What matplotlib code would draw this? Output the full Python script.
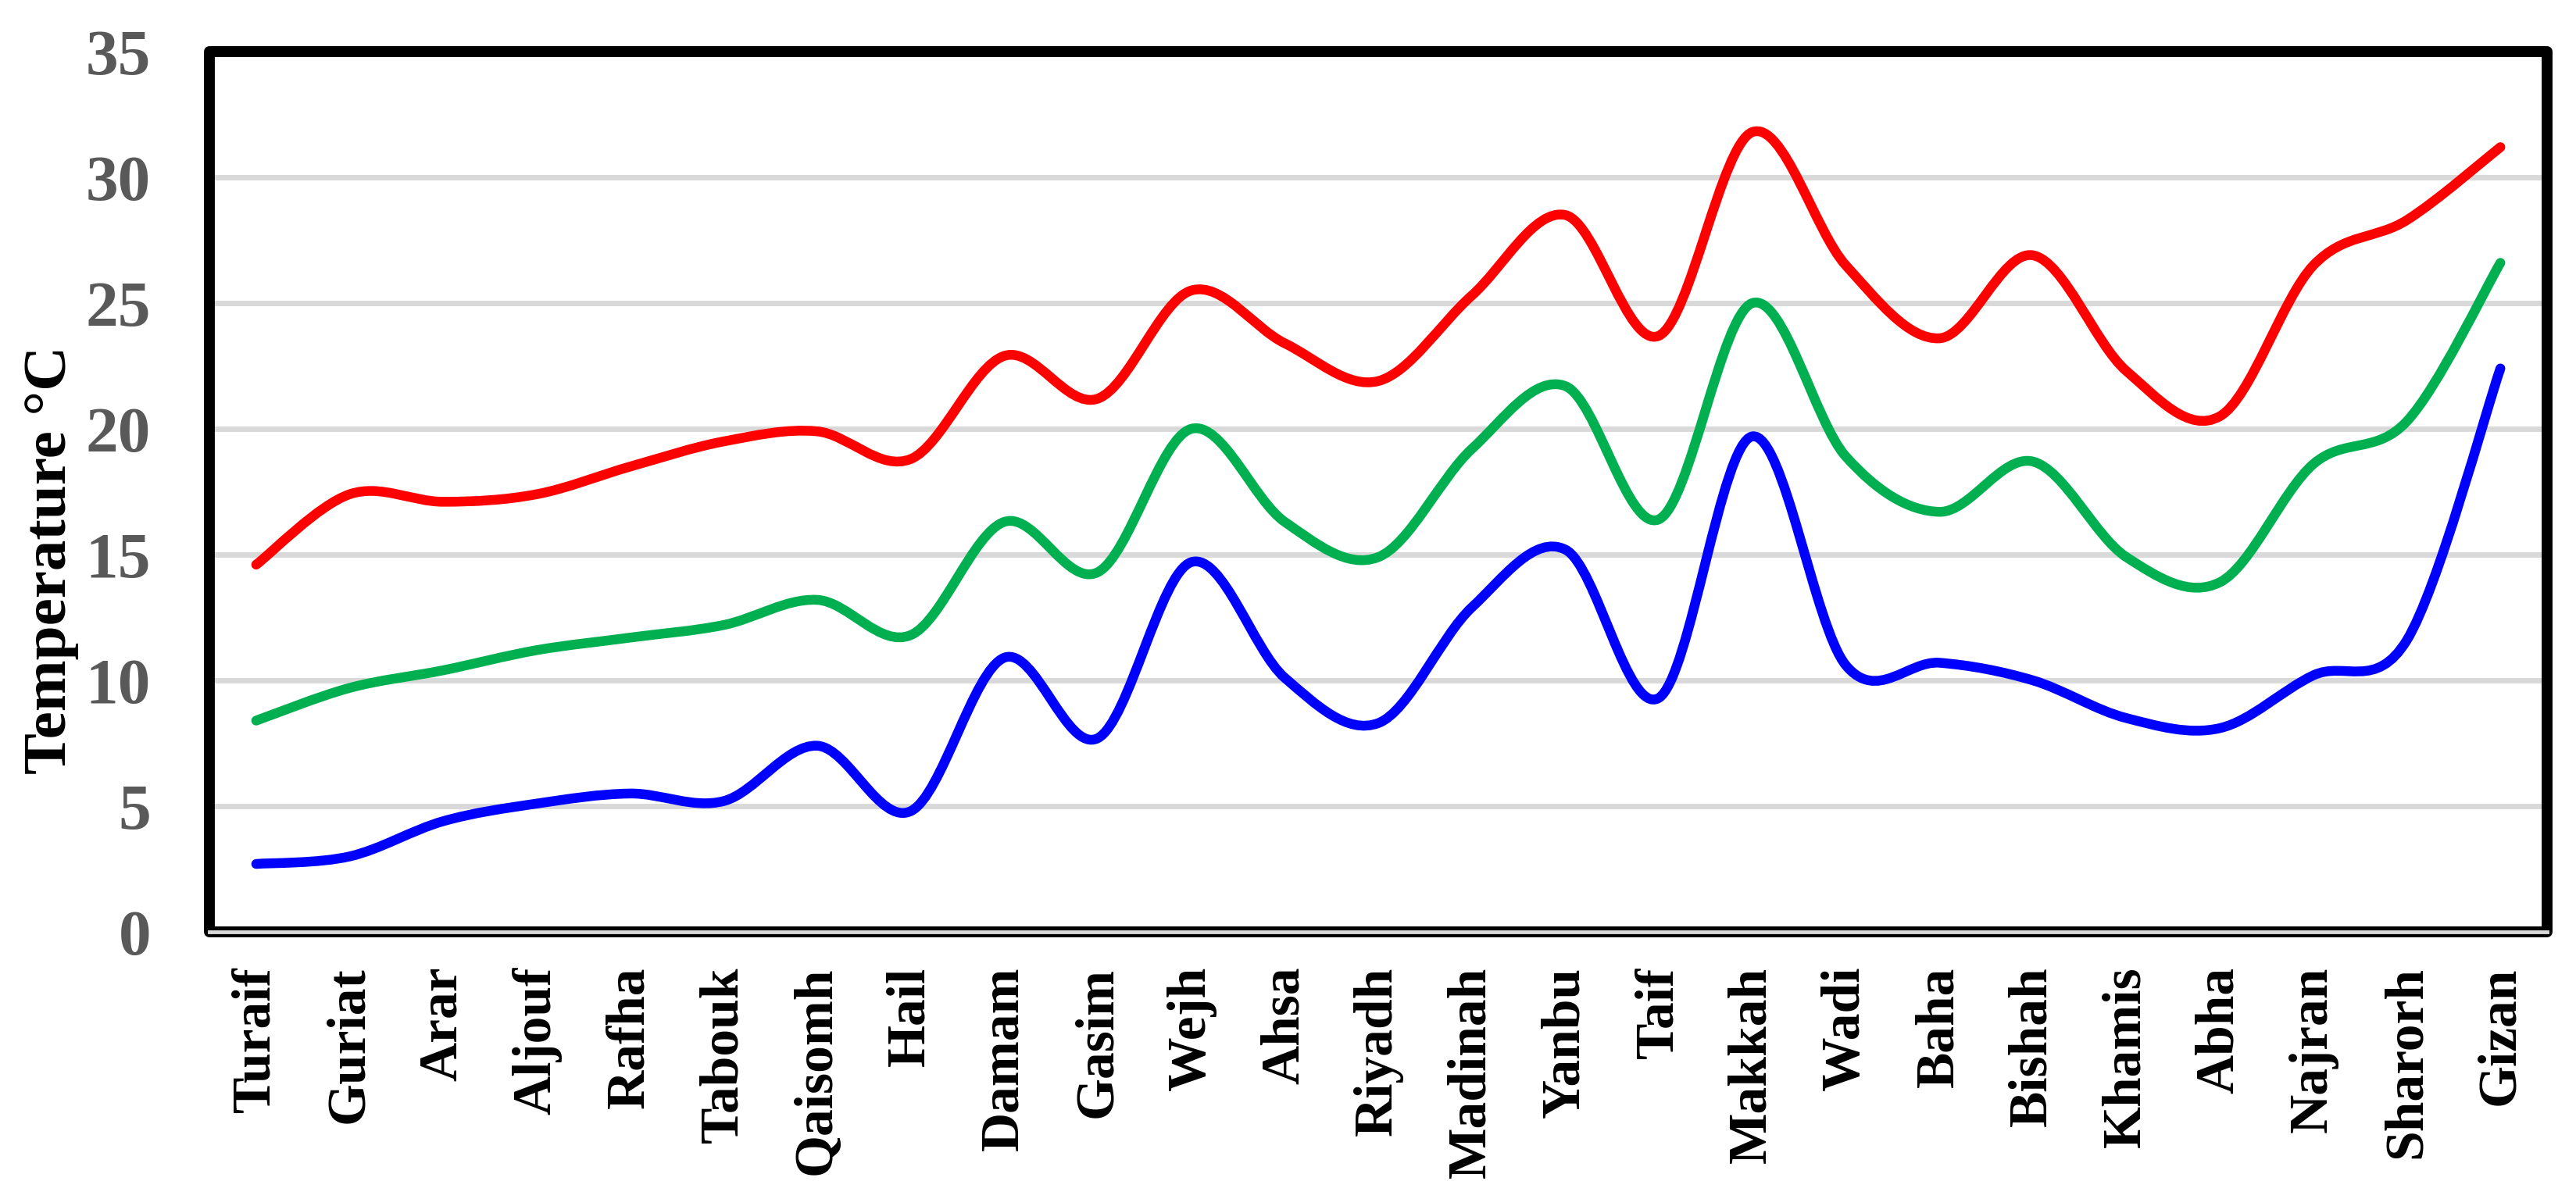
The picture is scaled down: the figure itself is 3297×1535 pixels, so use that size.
import matplotlib
matplotlib.use("Agg")
import matplotlib.pyplot as plt
from matplotlib.path import Path
from matplotlib.patches import PathPatch, Rectangle

# Estações e temperaturas médias (°C)
estacoes = ['Turaif', 'Guriat', 'Arar', 'Aljouf', 'Rafha', 'Tabouk', 'Qaisomh',
            'Hail', 'Damam', 'Gasim', 'Wejh', 'Ahsa', 'Riyadh', 'Madinah',
            'Yanbu', 'Taif', 'Makkah', 'Wadi', 'Baha', 'Bishah', 'Khamis',
            'Abha', 'Najran', 'Sharorh', 'Gizan']

t_max = [14.6, 17.4, 17.1, 17.4, 18.5, 19.5, 19.9, 18.8, 22.9, 21.2, 25.5, 23.4,
         21.9, 25.3, 28.5, 23.7, 31.8, 26.5, 23.6, 26.9, 22.3, 20.5, 26.5, 28.3, 31.2]
t_med = [8.4, 9.7, 10.4, 11.2, 11.7, 12.2, 13.2, 11.8, 16.3, 14.3, 20.0, 16.3,
         14.9, 19.2, 21.7, 16.4, 25.0, 18.9, 16.7, 18.7, 14.9, 13.9, 18.6, 20.3, 26.6]
t_min = [2.7, 3.0, 4.4, 5.1, 5.5, 5.2, 7.4, 4.8, 10.9, 7.7, 14.7, 10.1,
         8.3, 12.9, 15.2, 9.3, 19.7, 10.6, 10.7, 10.0, 8.5, 8.1, 10.2, 11.6, 22.4]

cores = ['#FF0000', '#00B050', '#0000FF']

plt.rcParams['font.family'] = ['Liberation Serif', 'DejaVu Serif']
plt.rcParams['font.weight'] = 'bold'


def curva_suave(xs, ys):
    # linha suavizada estilo Excel (Bezier tipo Catmull-Rom)
    pts = list(zip(xs, ys))
    n = len(pts)
    verts = [pts[0]]
    codes = [Path.MOVETO]
    for i in range(n - 1):
        p0 = pts[i - 1] if i > 0 else pts[i]
        p1 = pts[i]
        p2 = pts[i + 1]
        p3 = pts[i + 2] if i + 2 < n else pts[i + 1]
        c1 = (p1[0] + (p2[0] - p0[0]) / 6, p1[1] + (p2[1] - p0[1]) / 6)
        c2 = (p2[0] - (p3[0] - p1[0]) / 6, p2[1] - (p3[1] - p1[1]) / 6)
        verts += [c1, c2, p2]
        codes += [Path.CURVE4] * 3
    return Path(verts, codes)


fig = plt.figure(figsize=(32.97, 15.35), dpi=100)
ax = fig.add_axes([0.0813, 0.2228, 0.9075, 0.7342])

x = list(range(len(estacoes)))
for serie, cor in zip([t_max, t_med, t_min], cores):
    patch = PathPatch(curva_suave(x, serie), facecolor='none', edgecolor=cor,
                      lw=9, capstyle='round', joinstyle='round', zorder=3)
    ax.add_patch(patch)

ax.set_xlim(-0.5, len(estacoes) - 0.5)
ax.set_ylim(0, 35)
ax.set_yticks(range(0, 36, 5))
ax.set_xticks(x)
ax.set_xticklabels(estacoes, rotation=90, fontsize=50, fontweight='bold', color='black')
ax.tick_params(axis='x', length=0, pad=32)
ax.tick_params(axis='y', length=0, pad=54, labelsize=60, labelcolor='#595959')

for g in range(5, 35, 5):
    ax.axhline(g, color='#D9D9D9', lw=5, zorder=1)

for s in ax.spines.values():
    s.set_visible(False)

ax.add_patch(Rectangle((0, 0), 1, 1, transform=ax.transAxes, fill=False,
                       edgecolor='black', lw=10, joinstyle='round',
                       clip_on=False, zorder=4))
ax.axhline(0, color='#D9D9D9', lw=3.5, zorder=5, clip_on=False)

fig.text(0.020, 0.533, 'Temperature °C', rotation=90, ha='center', va='center',
         fontsize=57, fontweight='bold')

fig.savefig('out.png', dpi=100)
